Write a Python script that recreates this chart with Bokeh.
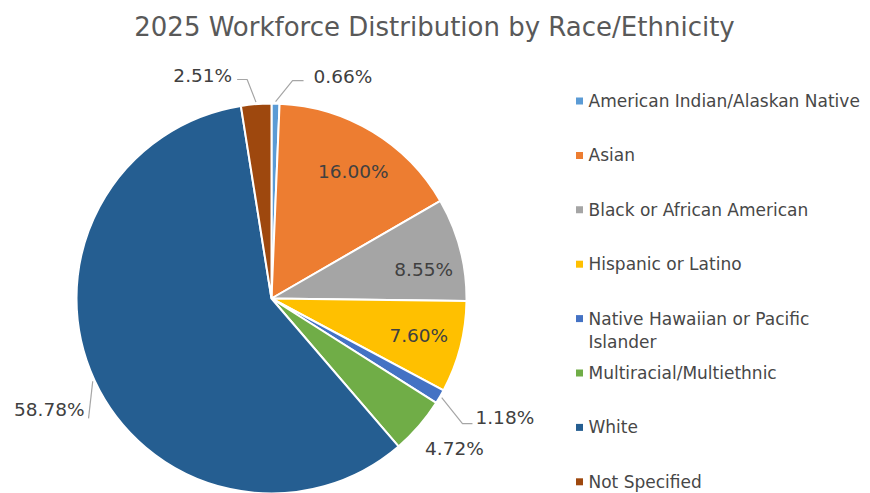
import math
from bokeh.plotting import figure
from bokeh.models import Range1d
from bokeh.core.properties import value
from bokeh.embed import file_html
from bokeh.resources import INLINE

# ---------------- data ----------------
title = "2025 Workforce Distribution by Race/Ethnicity"
categories = [
    "American Indian/Alaskan Native",
    "Asian",
    "Black or African American",
    "Hispanic or Latino",
    "Native Hawaiian or Pacific Islander",
    "Multiracial/Multiethnic",
    "White",
    "Not Specified",
]
legend_lines = [
    ["American Indian/Alaskan Native"],
    ["Asian"],
    ["Black or African American"],
    ["Hispanic or Latino"],
    ["Native Hawaiian or Pacific", "Islander"],
    ["Multiracial/Multiethnic"],
    ["White"],
    ["Not Specified"],
]
shares = [0.66, 16.00, 8.55, 7.60, 1.18, 4.72, 58.78, 2.51]
colors = ["#5B9BD5", "#ED7D31", "#A5A5A5", "#FFC000",
          "#4472C4", "#70AD47", "#255E91", "#9E480E"]

# ---------------- layout / style ----------------
W, H = 870, 493
CX, CY, R = 271, 298, 195          # pie centre and radius (pixels, y down)
FONT = "DejaVu Sans"
LABEL_COLOR = "#404040"
LEGEND_COLOR = "#474747"
LEADER_COLOR = "#A6A6A6"

# label placement: ("in", nudge) or ("out", elbow, end, text, align) offsets from slice edge
LABEL_LAYOUT = {
    "American Indian/Alaskan Native": ("out", (17, -23), (28, -23), (38, -27.5), "left"),
    "Asian": ("in", (3, 3)),
    "Black or African American": ("in", (5, 9)),
    "Hispanic or Latino": ("in", (0, -1)),
    "Native Hawaiian or Pacific Islander": ("out", (22.5, 27), (32.5, 27), (35.5, 20.5), "left"),
    "Multiracial/Multiethnic": ("out", None, None, (6, 22.5), "left"),
    "White": ("out", (-6, 38), (-6, 38), (-10, 29), "right"),
    "Not Specified": ("out", (-9, -24.6), (-19, -24.6), (-24, -29), "right"),
}


def Y(py):
    return H - py


p = figure(width=W, height=H, x_range=Range1d(0, W), y_range=Range1d(0, H),
           output_backend="svg", toolbar_location=None, min_border=0,
           x_axis_type=None, y_axis_type=None)
p.grid.visible = False
p.outline_line_color = None
p.background_fill_color = "white"
p.border_fill_color = "white"

# ---------------- wedges ----------------
total = sum(shares)
cum = 0.0
starts, ends, mids = [], [], []
for s in shares:
    a0 = math.pi / 2 - 2 * math.pi * cum / total
    cum += s
    a1 = math.pi / 2 - 2 * math.pi * cum / total
    starts.append(a0)
    ends.append(a1)
    mids.append((a0 + a1) / 2)

p.wedge(x=[CX] * len(shares), y=[Y(CY)] * len(shares), radius=R,
        start_angle=starts, end_angle=ends, direction="clock",
        fill_color=colors, line_color="white", line_width=2)

# ---------------- data labels ----------------
for cat, s, m in zip(categories, shares, mids):
    lay = LABEL_LAYOUT[cat]
    txt = f"{s:.2f}%"
    ux, uy = math.cos(m), -math.sin(m)   # pixel direction (y down)
    if lay[0] == "in":
        nx, ny = lay[1]
        px = CX + 0.78 * R * ux + nx
        py = CY + 0.78 * R * uy + ny
        p.text(x=[px], y=[Y(py)], text=[txt], text_font=value(FONT),
               text_font_size="18.5px", text_color=LABEL_COLOR,
               text_align="center", text_baseline="middle")
    else:
        _, elbow, end, toff, align = lay
        ex, ey = CX + R * ux, CY + R * uy
        if elbow is not None:
            sx, sy = CX + (R + 2) * ux, CY + (R + 2) * uy
            xs = [sx, ex + elbow[0], ex + end[0]]
            ys = [Y(sy), Y(ey + elbow[1]), Y(ey + end[1])]
            p.line(xs, ys, line_color=LEADER_COLOR, line_width=1.2)
        p.text(x=[ex + toff[0]], y=[Y(ey + toff[1])], text=[txt],
               text_font=value(FONT), text_font_size="18.5px",
               text_color=LABEL_COLOR, text_align=align, text_baseline="middle")

# ---------------- title ----------------
p.text(x=[434], y=[Y(26)], text=[title], text_font=value(FONT),
       text_font_size="26px", text_color="#595959",
       text_align="center", text_baseline="middle")

# ---------------- legend ----------------
LEG_X, LEG_Y0, LEG_DY, LINE_DY = 579, 100.5, 54.4, 23
for i, (lines, col) in enumerate(zip(legend_lines, colors)):
    ry = LEG_Y0 + i * LEG_DY
    p.rect(x=[LEG_X], y=[Y(ry)], width=7, height=7, fill_color=col, line_color=None)
    for j, ln in enumerate(lines):
        p.text(x=[LEG_X + 9], y=[Y(ry + j * LINE_DY)], text=[ln],
               text_font=value(FONT), text_font_size="17px",
               text_color=LEGEND_COLOR, text_align="left", text_baseline="middle")

open("out.html", "w").write(file_html(p, INLINE))
